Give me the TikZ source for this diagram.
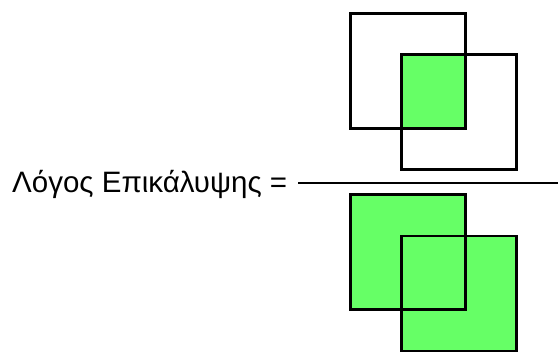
\documentclass[tikz,border=0pt]{standalone}
\usepackage{fontspec}
\setmainfont{Liberation Sans}
\usepackage{tikz}
\usetikzlibrary{
  positioning,
  backgrounds
}
\definecolor{areagreen}{HTML}{66FF66}

\begin{document}
\begin{tikzpicture}[x=1pt, y=-1pt,
    sq/.style={draw, line width=2.8pt, minimum size=115pt, inner sep=0pt,
               outer sep=0pt},
    lbl/.style={anchor=base west, inner sep=0pt,
                font=\fontsize{29.5}{34}\selectfont},
    bar/.style={line width=2.8pt}
  ]
    \useasboundingbox (0,0) rectangle (558,352);
    % numerator: overlap of the two boxes
    \node[sq] (A) at (408.1,70.8) {};
    \node[sq] (B) at (459.0,112.1) {};
    % denominator: union of the two boxes
    \node[sq] (C) at (408.1,252.2) {};
    \node[sq] (D) at (459.0,293.6) {};
    \begin{scope}[on background layer]
      \fill[areagreen] (B.north west) rectangle (A.south east);
      \fill[areagreen] (C.north west) rectangle (C.south east);
      \fill[areagreen] (D.north west) rectangle (D.south east);
    \end{scope}
    \node[lbl] (ratio) at (12,192.5) {Λόγος Επικάλυψης =};
    \coordinate (barL) at (298,183);
    \coordinate (barR) at (558,183);
    \draw[bar] (barL) -- (barR);
  \end{tikzpicture}
\end{document}
